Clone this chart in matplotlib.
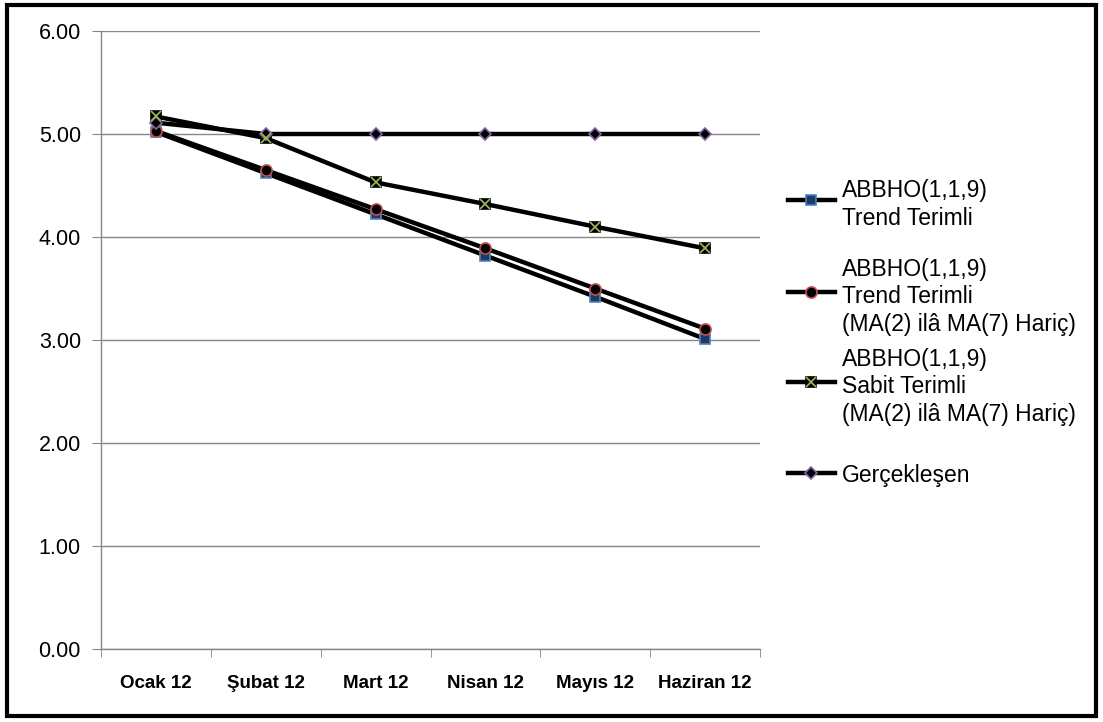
import matplotlib
matplotlib.use("Agg")
import matplotlib.pyplot as plt
from matplotlib.lines import Line2D
from matplotlib.patches import Rectangle

categories = ["Ocak 12", "Şubat 12", "Mart 12", "Nisan 12", "Mayıs 12", "Haziran 12"]
trend = [5.02, 4.62, 4.22, 3.82, 3.42, 3.01]
trend_excl = [5.03, 4.65, 4.27, 3.89, 3.50, 3.11]
sabit_excl = [5.17, 4.96, 4.53, 4.32, 4.10, 3.89]
actual = [5.11, 5.00, 5.00, 5.00, 5.00, 5.00]
yticks = [0, 1, 2, 3, 4, 5, 6]

labels = [
    "ABBHO(1,1,9)\nTrend Terimli",
    "ABBHO(1,1,9)\nTrend Terimli\n(MA(2) ilâ MA(7) Hariç)",
    "ABBHO(1,1,9)\nSabit Terimli\n(MA(2) ilâ MA(7) Hariç)",
    "Gerçekleşen",
]

W, H = 1103, 722
plt.rcParams['font.family'] = ['Liberation Sans', 'DejaVu Sans']
fig = plt.figure(figsize=(W / 100, H / 100), dpi=100)

def fx(x):
    return x / W

def fy(y):
    return 1 - y / H

ax = fig.add_axes([fx(101), fy(649), fx(760) - fx(101), fy(31) - fy(649)])

x = list(range(len(categories)))
grid_c = "#868686"

styles = [
    dict(marker="s", mfc="#1F3864", mec="#4F81BD", ms=7),
    dict(marker="o", mfc="#000000", mec="#C0504D", ms=8),
    dict(marker="s", mfc="#000000", mec="#000000", ms=7),
    dict(marker="D", mfc="#000000", mec="#8064A2", ms=6),
]
series = [trend, trend_excl, sabit_excl, actual]
for vals, st in zip(series, styles):
    ax.plot(x, vals, color="black", lw=3.2, zorder=3, **st, mew=1.2)
    if vals is sabit_excl:
        ax.plot(x, vals, ls="none", marker="x", color="#9BBB59", ms=7, mew=1.2, zorder=4)

ax.set_xlim(-0.5, len(categories) - 0.5)
ax.set_ylim(0, 6)
ax.set_yticks(yticks)
ax.set_yticklabels([f"{v:.2f}" for v in yticks], fontsize=15.5)
ax.yaxis.grid(True, color=grid_c, lw=1)
ax.set_axisbelow(True)

ax.set_xticks(x)
ax.set_xticklabels(categories, fontsize=13.5, fontweight="bold")
ax.set_xticks([i - 0.5 for i in range(len(categories) + 1)], minor=True)
ax.tick_params(axis="x", which="major", length=0, pad=19)
ax.tick_params(axis="x", which="minor", length=6, color=grid_c, direction="out")
ax.tick_params(axis="y", length=6.5, color=grid_c, direction="out", pad=8)

for s in ["top", "right"]:
    ax.spines[s].set_visible(False)
for s in ["left", "bottom"]:
    ax.spines[s].set_color(grid_c)
    ax.spines[s].set_linewidth(1)

# legend
leg_y = [200, 292, 382, 473]
for yy, st, lab, vals in zip(leg_y, styles, labels, series):
    fig.add_artist(Line2D([fx(788), fx(835)], [fy(yy), fy(yy)], color="black", lw=3.2,
                          transform=fig.transFigure))
    fig.add_artist(Line2D([fx(811)], [fy(yy)], color="black", ls="none",
                          transform=fig.transFigure, mew=1.2, **st))
    if vals is sabit_excl:
        fig.add_artist(Line2D([fx(811)], [fy(yy)], ls="none", marker="x", color="#9BBB59",
                              ms=7, mew=1.2, transform=fig.transFigure))
    fig.text(fx(842), fy(yy), lab, fontsize=16.5, va="center_baseline", ha="left",
             linespacing=1.25)

# outer border
fig.add_artist(Rectangle((fx(7), fy(716)), fx(1096) - fx(7), fy(5) - fy(716),
                         fill=False, ec="black", lw=3, transform=fig.transFigure))

fig.savefig("out.png", dpi=100)
